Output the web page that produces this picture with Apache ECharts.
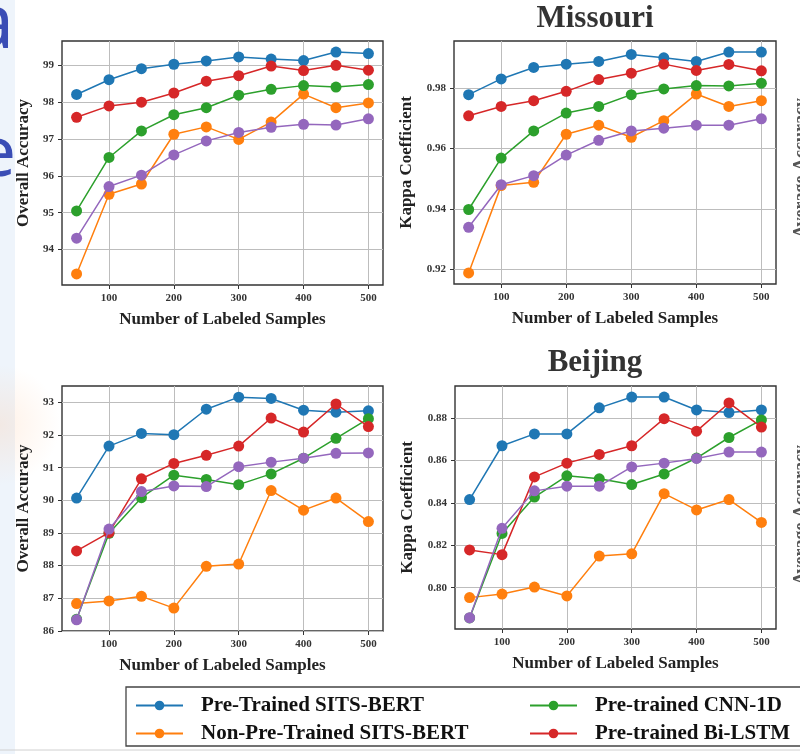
<!DOCTYPE html>
<html>
<head>
<meta charset="utf-8">
<script src="https://cdn.jsdelivr.net/npm/echarts@6/dist/echarts.min.js"></script>
<style>
html,body{margin:0;padding:0;background:#fff;}
#chart{width:800px;height:754px;}
</style>
</head>
<body>
<div id="chart"></div>
<script>
// ---------------- data ----------------
const samples = [50, 100, 150, 200, 250, 300, 350, 400, 450, 500];
const xTicks = [100, 200, 300, 400, 500];

const seriesNames = ['Pre-Trained SITS-BERT', 'Non-Pre-Trained SITS-BERT', 'Pre-trained CNN-1D', 'Pre-trained Bi-LSTM', 'Fifth model'];

// Missouri - Overall Accuracy
const moOA_bertPT   = [98.21, 98.61, 98.91, 99.03, 99.12, 99.23, 99.17, 99.13, 99.36, 99.32];
const moOA_bertNPT  = [93.34, 95.50, 95.78, 97.13, 97.33, 96.99, 97.46, 98.22, 97.85, 97.98];
const moOA_cnn      = [95.05, 96.50, 97.22, 97.66, 97.85, 98.19, 98.35, 98.45, 98.41, 98.48];
const moOA_lstm     = [97.59, 97.90, 98.00, 98.25, 98.57, 98.72, 98.98, 98.86, 99.00, 98.87];
const moOA_fifth    = [94.31, 95.71, 96.02, 96.57, 96.95, 97.18, 97.32, 97.40, 97.38, 97.55];
const moOA_ticks    = [94, 95, 96, 97, 98, 99];

// Missouri - Kappa
const moK_bertPT    = [0.9778, 0.9830, 0.9868, 0.9879, 0.9888, 0.9911, 0.9900, 0.9888, 0.9919, 0.9919];
const moK_bertNPT   = [0.9188, 0.9477, 0.9488, 0.9647, 0.9677, 0.9637, 0.9692, 0.9780, 0.9739, 0.9758];
const moK_cnn       = [0.9398, 0.9568, 0.9658, 0.9717, 0.9739, 0.9778, 0.9797, 0.9808, 0.9807, 0.9816];
const moK_lstm      = [0.9708, 0.9739, 0.9758, 0.9789, 0.9828, 0.9849, 0.9879, 0.9858, 0.9878, 0.9857];
const moK_fifth     = [0.9339, 0.9480, 0.9510, 0.9578, 0.9627, 0.9658, 0.9667, 0.9677, 0.9677, 0.9698];
const moK_ticks     = [0.92, 0.94, 0.96, 0.98];

// Beijing - Overall Accuracy
const bjOA_bertPT   = [90.07, 91.66, 92.05, 92.01, 92.79, 93.16, 93.12, 92.76, 92.70, 92.74];
const bjOA_bertNPT  = [86.84, 86.92, 87.06, 86.70, 87.98, 88.05, 90.30, 89.70, 90.07, 89.35];
const bjOA_cnn      = [86.36, 88.99, 90.08, 90.77, 90.64, 90.48, 90.81, 91.29, 91.90, 92.50];
const bjOA_lstm     = [88.45, 89.01, 90.66, 91.13, 91.38, 91.66, 92.52, 92.09, 92.95, 92.26];
const bjOA_fifth    = [86.34, 89.12, 90.27, 90.44, 90.42, 91.03, 91.17, 91.29, 91.44, 91.45];
const bjOA_ticks    = [86, 87, 88, 89, 90, 91, 92, 93];

// Beijing - Kappa
const bjK_bertPT    = [0.8416, 0.8670, 0.8726, 0.8726, 0.8849, 0.8900, 0.8900, 0.8839, 0.8827, 0.8839];
const bjK_bertNPT   = [0.7953, 0.7970, 0.8003, 0.7961, 0.8149, 0.8160, 0.8444, 0.8367, 0.8416, 0.8308];
const bjK_cnn       = [0.7857, 0.8256, 0.8428, 0.8528, 0.8514, 0.8487, 0.8537, 0.8612, 0.8709, 0.8792];
const bjK_lstm      = [0.8178, 0.8156, 0.8523, 0.8588, 0.8629, 0.8670, 0.8798, 0.8739, 0.8872, 0.8758];
const bjK_fifth     = [0.7858, 0.8280, 0.8457, 0.8479, 0.8479, 0.8570, 0.8588, 0.8610, 0.8640, 0.8640];
const bjK_ticks     = [0.80, 0.82, 0.84, 0.86, 0.88];

// ---------------- styling / layout ----------------
const colors = ['#1f77b4', '#ff7f0e', '#2ca02c', '#d62728', '#9467bd'];
const SERIF = '"Liberation Serif", "Times New Roman", serif';

const panels = [
  {grid: {left: 62, top: 41, width: 321, height: 244}, data: [moOA_bertPT, moOA_bertNPT, moOA_cnn, moOA_lstm, moOA_fifth], ticks: moOA_ticks, yName: 'Overall Accuracy', dec: 0, nameGap: 30},
  {grid: {left: 454, top: 41, width: 322, height: 243}, data: [moK_bertPT, moK_bertNPT, moK_cnn, moK_lstm, moK_fifth], ticks: moK_ticks, yName: 'Kappa Coefficient', dec: 2, nameGap: 39},
  {grid: {left: 62, top: 386, width: 321, height: 245}, data: [bjOA_bertPT, bjOA_bertNPT, bjOA_cnn, bjOA_lstm, bjOA_fifth], ticks: bjOA_ticks, yName: 'Overall Accuracy', dec: 0, nameGap: 30},
  {grid: {left: 455, top: 386, width: 321, height: 243}, data: [bjK_bertPT, bjK_bertNPT, bjK_cnn, bjK_lstm, bjK_fifth], ticks: bjK_ticks, yName: 'Kappa Coefficient', dec: 2, nameGap: 39}
];

const grids = [], xAxes = [], yAxes = [], series = [];
const xMin = samples[0] - 0.05 * (samples[samples.length - 1] - samples[0]);
const xMax = samples[samples.length - 1] + 0.05 * (samples[samples.length - 1] - samples[0]);

panels.forEach((p, i) => {
  grids.push(Object.assign({show: true, borderColor: '#333', borderWidth: 1.4, backgroundColor: '#fff'}, p.grid));
  const all = [].concat(...p.data);
  const lo = Math.min(...all), hi = Math.max(...all), r = hi - lo;
  xAxes.push({
    type: 'value', gridIndex: i, min: xMin, max: xMax,
    name: 'Number of Labeled Samples', nameLocation: 'middle', nameGap: 26,
    nameTextStyle: {fontFamily: SERIF, fontWeight: 'bold', fontSize: 17, color: '#222'},
    axisLine: {show: false},
    axisTick: {show: true, customValues: xTicks, length: 4, lineStyle: {color: '#333'}},
    axisLabel: {customValues: xTicks, fontFamily: SERIF, fontWeight: 'bold', fontSize: 11, color: '#333', margin: 8},
    splitLine: {show: true, lineStyle: {color: '#bdbdbd', width: 1}}
  });
  yAxes.push({
    type: 'value', gridIndex: i, min: lo - 0.05 * r, max: hi + 0.05 * r,
    name: p.yName, nameLocation: 'middle', nameGap: p.nameGap,
    nameTextStyle: {fontFamily: SERIF, fontWeight: 'bold', fontSize: 17, color: '#222'},
    axisLine: {show: false},
    axisTick: {show: true, customValues: p.ticks, length: 4, lineStyle: {color: '#333'}},
    axisLabel: {customValues: p.ticks, fontFamily: SERIF, fontWeight: 'bold', fontSize: 11, color: '#333', margin: 8,
      formatter: v => Number(v).toFixed(p.dec)},
    splitLine: {show: true, lineStyle: {color: '#bdbdbd', width: 1}}
  });
  p.data.forEach((vals, k) => {
    series.push({
      type: 'line', name: seriesNames[k], xAxisIndex: i, yAxisIndex: i,
      data: samples.map((s, j) => [s, vals[j]]),
      symbol: 'circle', symbolSize: 11, showSymbol: true,
      lineStyle: {color: colors[k], width: 1.5},
      itemStyle: {color: colors[k]},
      z: 2 + k, animation: false
    });
  });
});

const legendPos = [
  {name: seriesNames[0], left: 135, top: 695},
  {name: seriesNames[1], left: 135, top: 723},
  {name: seriesNames[2], left: 529, top: 695},
  {name: seriesNames[3], left: 529, top: 723}
];
const legends = legendPos.map(l => ({
  data: [l.name], left: l.left, top: l.top, padding: 0,
  itemWidth: 47, itemHeight: 12, selectedMode: false,
  textStyle: {fontFamily: SERIF, fontWeight: 'bold', fontSize: 21, color: '#111', padding: [0, 0, 0, 13]}
}));

const graphics = [
  {type: 'rect', shape: {x: 0, y: 0, width: 15, height: 754}, style: {fill: '#eef4fb'}, z: -10},
  {type: 'circle', shape: {cx: 0, cy: 425, r: 60}, style: {fill: {type: 'radial', x: 0.5, y: 0.5, r: 0.5, colorStops: [{offset: 0, color: 'rgba(255,200,160,0.25)'}, {offset: 1, color: 'rgba(255,200,160,0)'}]}}, z: -9},
  {type: 'text', x: 14, y: 64, style: {text: 'a', x: 0, y: 0, align: 'right', verticalAlign: 'bottom', font: '400 74px "Noto Sans", sans-serif', fill: '#3a4db5'}, z: -8},
  {type: 'text', x: 16, y: 191, style: {text: 'e', x: 0, y: 0, align: 'right', verticalAlign: 'bottom', font: '400 70px "Noto Sans", sans-serif', fill: '#3a4db5'}, z: -8},
  {type: 'text', style: {text: 'Missouri', x: 595, y: 19, textAlign: 'center', textVerticalAlign: 'middle', font: 'bold 31px ' + SERIF, fill: '#333'}},
  {type: 'text', style: {text: 'Beijing', x: 595, y: 363, textAlign: 'center', textVerticalAlign: 'middle', font: 'bold 31px ' + SERIF, fill: '#333'}},
  {type: 'text', rotation: Math.PI / 2, x: 801, y: 168, style: {text: 'Average Accuracy', x: 0, y: 0, textAlign: 'center', textVerticalAlign: 'middle', font: 'bold 18px ' + SERIF, fill: '#555'}},
  {type: 'text', rotation: Math.PI / 2, x: 801, y: 515, style: {text: 'Average Accuracy', x: 0, y: 0, textAlign: 'center', textVerticalAlign: 'middle', font: 'bold 18px ' + SERIF, fill: '#555'}},
  {type: 'rect', shape: {x: 126, y: 687, width: 720, height: 59}, style: {fill: 'none', stroke: '#444', lineWidth: 1.3}},
  {type: 'line', shape: {x1: 0, y1: 750, x2: 800, y2: 750}, style: {stroke: '#d0d0d0', lineWidth: 1}}
];

const chart = echarts.init(document.getElementById('chart'), null, {renderer: 'canvas'});
chart.setOption({
  backgroundColor: '#fff',
  animation: false,
  color: colors,
  grid: grids,
  xAxis: xAxes,
  yAxis: yAxes,
  legend: legends,
  series: series,
  graphic: graphics
});
</script>
</body>
</html>
